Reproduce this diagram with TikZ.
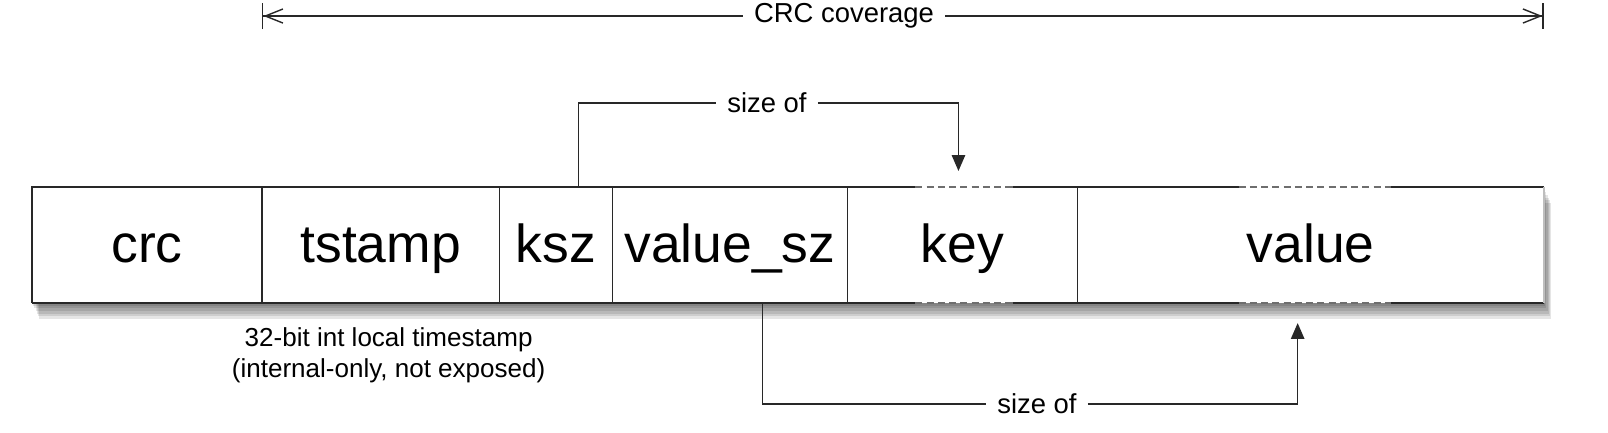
\documentclass[tikz,border=0pt]{standalone}
\usepackage{fontspec}
\setmainfont{Liberation Sans}
\usetikzlibrary{positioning,arrows.meta,backgrounds}
\begin{document}
\begin{tikzpicture}[x=0.01cm, y=-0.01cm,
        cell/.style={rectangle, fill=white, inner sep=0pt, outer sep=0pt,
            minimum height=1.16cm, text height=11pt, text depth=0.8pt,
            font=\fontsize{15.2}{18}\selectfont},
        lbl/.style={inner sep=3pt, font=\fontsize{7.8}{9.4}\selectfont},
        note/.style={inner sep=0pt, align=center, font=\fontsize{7.4}{8.8}\selectfont},
        rim/.style={draw=lineDark, line width=0.75pt},
        dashgap/.style={draw=lineGray, line width=0.5pt, dash pattern=on 2pt off 1.2pt},
        divider/.style={draw=lineDark, line width=0.4pt},
        link/.style={draw=lineDark, line width=0.4pt},
        sizearrow/.style={-{Triangle[length=4.5pt,width=3.8pt]}}
    ]
        % --- CONFIGURATION ---
        \definecolor{lineDark}{RGB}{40, 40, 40}
        \definecolor{lineGray}{RGB}{110, 110, 110}
        \definecolor{edgeLight}{RGB}{190, 190, 190}

        \useasboundingbox (0,0) rectangle (1608,432);

        % --- CHAMPS DE L'ENREGISTREMENT ---
        \node[cell, minimum width=2.30cm] (crc) at (147,245) {crc};
        \node[cell, minimum width=2.37cm, right=0pt of crc] (tstamp) {tstamp};
        \node[cell, minimum width=1.13cm, right=0pt of tstamp] (ksz) {ksz};
        \node[cell, minimum width=2.35cm, right=0pt of ksz] (valuesz) {value\_sz};
        \node[cell, minimum width=2.30cm, right=0pt of valuesz] (key) {key};
        \node[cell, minimum width=4.66cm, right=0pt of key] (value) {value};

        % Fond et ombre portee
        \begin{scope}[on background layer]
            \fill[white] (0,0) rectangle (1608,432);
            \foreach \k in {1,...,6}
                \fill[black, opacity=0.1] ([xshift={0.35pt*\k}, yshift={-0.75pt*\k}]crc.north west)
                    rectangle ([xshift={0.35pt*\k}, yshift={-0.75pt*\k}]value.south east);
        \end{scope}

        % Separateurs
        \foreach \c in {tstamp,ksz,valuesz,key,value}
            \draw[divider] (\c.north west) -- (\c.south west);

        % Contour (pointille au-dessus de key et value)
        \draw[rim] (crc.south west) -- (crc.north west) -- ([xshift=-0.47cm]key.north)
            ([xshift=0.50cm]key.north) -- ([xshift=-0.72cm]value.north)
            ([xshift=0.80cm]value.north) -- (value.north east);
        \draw[rim] (crc.south west) -- ([xshift=-0.47cm]key.south)
            ([xshift=0.50cm]key.south) -- ([xshift=-0.72cm]value.south)
            ([xshift=0.80cm]value.south) -- (value.south east);
        \draw[dashgap] ([xshift=-0.47cm]key.north) -- ([xshift=0.50cm]key.north)
            ([xshift=-0.72cm]value.north) -- ([xshift=0.80cm]value.north)
            ([xshift=-0.47cm]key.south) -- ([xshift=0.50cm]key.south)
            ([xshift=-0.72cm]value.south) -- ([xshift=0.80cm]value.south);
        \draw[edgeLight, line width=0.45pt] (value.north east) -- (value.south east);

        % --- CRC COVERAGE ---
        \node[lbl] (coverage) at (844,16) {CRC coverage};
        \draw[link, {Bar[width=7.4pt] Straight Barb[length=5pt,width=4pt]}-]
            (tstamp.north west |- coverage) -- (coverage.west);
        \draw[link, -{Straight Barb[length=5pt,width=4pt] Bar[width=7.4pt]}]
            (coverage.east) -- (value.north east |- coverage);

        % --- SIZE OF ---
        \node[lbl] (sizeofKey) at (767,103) {size of};
        \draw[link] ([xshift=0.225cm]ksz.north) |- (sizeofKey.west);
        \draw[link, sizearrow] (sizeofKey.east) -| ([xshift=-0.04cm, yshift=0.16cm]key.north);

        \node[lbl] (sizeofValue) at (1037,404) {size of};
        \draw[link] ([xshift=0.325cm]valuesz.south) |- (sizeofValue.west);
        \draw[link, sizearrow] (sizeofValue.east) -| ([xshift=-0.13cm, yshift=-0.20cm]value.south);

        % Annotation
        \node[note, below=0.24cm of tstamp, xshift=0.08cm] (tsnote)
            {32-bit int local timestamp\\(internal-only, not exposed)};
    \end{tikzpicture}
\end{document}
